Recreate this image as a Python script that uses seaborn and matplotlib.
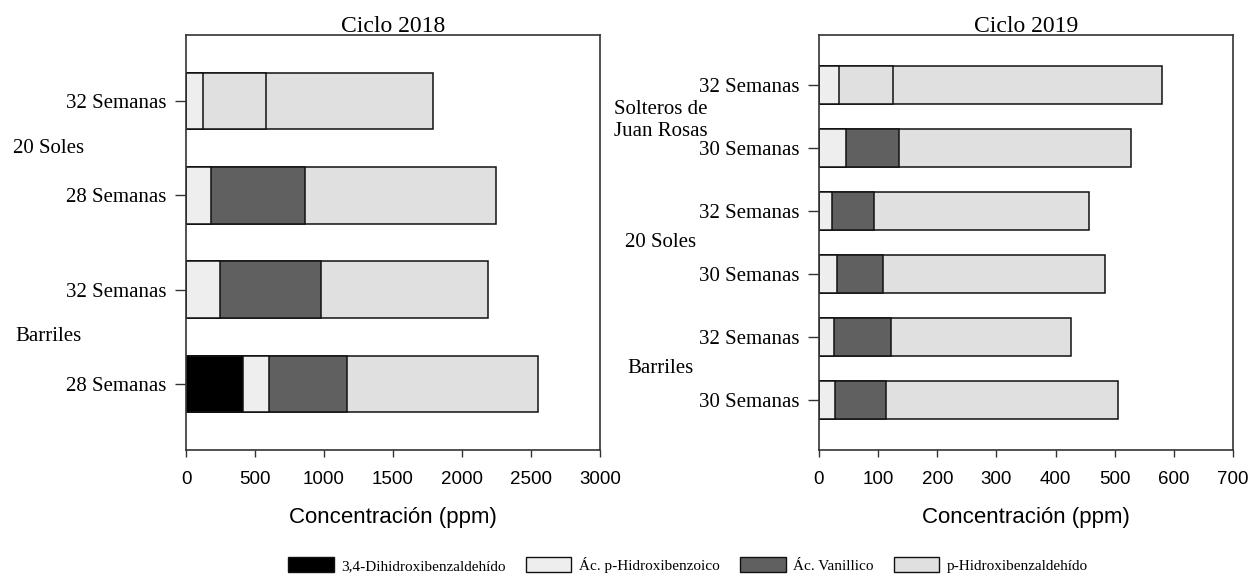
import numpy as np
import pandas as pd
import matplotlib
matplotlib.use("Agg")
import matplotlib.pyplot as plt
from matplotlib.patches import Patch
from matplotlib.transforms import blended_transform_factory
import seaborn as sns

sns.set_theme(style="white")
plt.rcParams['font.family'] = ['Liberation Serif', 'DejaVu Serif']
plt.rcParams['text.color'] = 'black'
plt.rcParams['axes.labelcolor'] = 'black'
plt.rcParams['xtick.color'] = 'black'
plt.rcParams['ytick.color'] = 'black'

# ---------------- data ----------------
series_names = ["3,4-Dihidroxibenzaldehído", "Ác. p-Hidroxibenzoico",
                "Ác. Vanillico", "p-Hidroxibenzaldehído"]

# Ciclo 2018 (top -> bottom)
groups_2018 = ["20 Soles", "20 Soles", "Barriles", "Barriles"]
labels_2018 = ["32 Semanas", "28 Semanas", "32 Semanas", "28 Semanas"]
dihidroxi_2018 = [0, 0, 0, 416]
hidroxibenzoico_2018 = [125, 179, 249, 188]
vanillico_2018 = [457, 684, 732, 566]
hidroxibenzaldehido_2018 = [1211, 1380, 1209, 1384]

# Ciclo 2019 (top -> bottom)
groups_2019 = ["Solteros de\nJuan Rosas", "Solteros de\nJuan Rosas", "20 Soles", "20 Soles",
               "Barriles", "Barriles"]
labels_2019 = ["32 Semanas", "30 Semanas", "32 Semanas", "30 Semanas", "32 Semanas", "30 Semanas"]
dihidroxi_2019 = [0, 0, 0, 0, 0, 0]
hidroxibenzoico_2019 = [34, 46, 22, 30, 26, 27]
vanillico_2019 = [91, 89, 71, 78, 95, 86]
hidroxibenzaldehido_2019 = [455, 393, 363, 375, 305, 392]

# ---------------- style ----------------
colors = ["#000000", "#eeeeee", "#606060", "#e0e0e0"]
# in the reference, the vanillic segment of the first bar in each panel is drawn light
vanillic_override = {0: "#e0e0e0"}

W, H = 1251, 574
fig = plt.figure(figsize=(W / 100, H / 100), dpi=100)

serif = ['Liberation Serif', 'DejaVu Serif']
sans = ['Liberation Sans', 'DejaVu Sans']


def draw_panel(ax, groups, labels, layers, xmax, xticks, title, group_x_px):
    n = len(labels)
    keys = [f"{i}" for i in range(n)]
    cum = np.cumsum(np.array(layers, dtype=float), axis=0)  # layers x bars
    # draw from the total down so that each smaller cumulative bar sits on top
    for li in range(len(layers) - 1, -1, -1):
        pal = {}
        for i, k in enumerate(keys):
            c = colors[li]
            if li == 2 and i in vanillic_override:
                c = vanillic_override[i]
            pal[k] = c
        df = pd.DataFrame({"key": keys, "value": cum[li]})
        sns.barplot(data=df, x="value", y="key", hue="key", palette=pal, order=keys,
                    hue_order=keys, orient="h", width=0.6, legend=False,
                    edgecolor="#111111", linewidth=1.1, saturation=1, ax=ax)
    pad = 0.7 if n == 4 else 0.8
    ax.set_ylim(n - 1 + pad, -pad)
    ax.set_xlim(0, xmax)
    ax.set_xticks(xticks)
    ax.set_xticklabels([str(t) for t in xticks], fontfamily=sans, fontsize=13.5)
    ax.set_yticks(range(n))
    ax.set_yticklabels(labels, fontfamily=serif, fontsize=15)
    ax.set_ylabel("")
    ax.set_xlabel("Concentración (ppm)", fontfamily=sans, fontsize=16, labelpad=14)
    ax.set_title(title, fontfamily=serif, fontsize=17, pad=2)
    for s in ax.spines.values():
        s.set_visible(True)
        s.set_color("#333333")
        s.set_linewidth(1.2)
    ax.tick_params(axis="y", length=8, width=1, color="#333333", pad=6, left=True)
    ax.tick_params(axis="x", length=5, width=1, color="#333333", pad=10, bottom=True)
    ax.grid(False)
    # group labels, centred between the two bars of each group
    tr = blended_transform_factory(fig.transFigure, ax.transData)
    seen = []
    for g in groups:
        if g not in seen:
            seen.append(g)
    for g in seen:
        idx = [i for i, gg in enumerate(groups) if gg == g]
        yoff = 0.06 if "\n" in g else 0.0
        ax.text(group_x_px / W, np.mean(idx) + yoff, g, transform=tr, ha="center",
                va="center", fontfamily=serif, fontsize=15, linespacing=1.2,
                clip_on=False)


ax1 = fig.add_axes([186 / W, (H - 450) / H, 414 / W, 415 / H])
draw_panel(ax1, groups_2018, labels_2018,
           [dihidroxi_2018, hidroxibenzoico_2018, vanillico_2018, hidroxibenzaldehido_2018],
           3000, [0, 500, 1000, 1500, 2000, 2500, 3000], "Ciclo 2018", 49)

ax2 = fig.add_axes([819 / W, (H - 450) / H, 414 / W, 415 / H])
draw_panel(ax2, groups_2019, labels_2019,
           [dihidroxi_2019, hidroxibenzoico_2019, vanillico_2019, hidroxibenzaldehido_2019],
           700, [0, 100, 200, 300, 400, 500, 600, 700], "Ciclo 2019", 661)

handles = [Patch(facecolor=c, edgecolor="#111111", linewidth=1.0) for c in colors]
fig.legend(handles, series_names, loc="center", bbox_to_anchor=(688 / W, 1 - 565 / H),
           ncol=4, frameon=False, prop={"family": serif, "size": 11},
           handlelength=3.0, handleheight=1.1, handletextpad=0.5, columnspacing=1.3)

fig.savefig("out.png", dpi=100)
